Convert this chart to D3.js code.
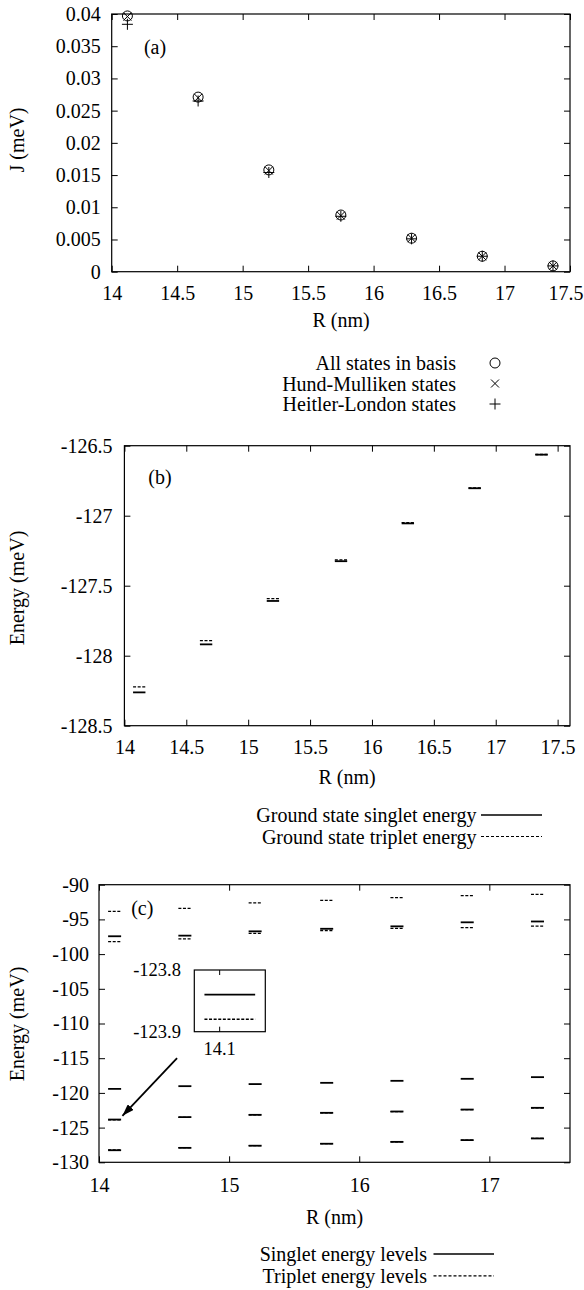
<!DOCTYPE html>
<html><head><meta charset="utf-8">
<script src="https://cdn.jsdelivr.net/npm/d3@7"></script>
<style>
body{margin:0;background:#fff}
svg{display:block}
text{font-family:"Liberation Serif","DejaVu Serif",serif;fill:#000}
</style>
</head><body><svg id="chart" width="584" height="1290"></svg>
<script>
// ---------- data ----------
const R = [14.12, 14.66, 15.20, 15.75, 16.29, 16.83, 17.37];
// panel (a): exchange energy J (meV)
const J_all = [0.0397, 0.0271, 0.0158, 0.0088, 0.0052, 0.0024, 0.0009];
const J_HM  = [0.0396, 0.0270, 0.0157, 0.0087, 0.0052, 0.0024, 0.0009];
const J_HL  = [0.0384, 0.0265, 0.0154, 0.0086, 0.0051, 0.0024, 0.0009];
// panel (b): ground state energies (meV)
const E_S0 = [-128.262, -127.919, -127.609, -127.325, -127.055, -126.804, -126.564];
const E_T0 = [-128.222, -127.892, -127.593, -127.316, -127.050, -126.802, -126.563];
// panel (c): energy levels (meV)
const E_S1 = [-123.84, -123.49, -123.16, -122.87, -122.68, -122.40, -122.15];
const E_T1 = [-123.88, -123.52, -123.18, -122.88, -122.69, -122.40, -122.15];
const E_S2 = [-119.42, -119.03, -118.73, -118.55, -118.26, -117.97, -117.73];
const E_S3 = [-97.43, -97.34, -96.72, -96.35, -96.00, -95.42, -95.30];
const E_T2 = [-98.21, -97.82, -97.00, -96.60, -96.28, -96.19, -95.98];
const E_T3 = [-93.83, -93.40, -92.63, -92.25, -91.85, -91.58, -91.38];
// ticks
const xTicksA = [14, 14.5, 15, 15.5, 16, 16.5, 17, 17.5];
const yTicksA = [0, 0.005, 0.01, 0.015, 0.02, 0.025, 0.03, 0.035, 0.04];
const xTicksB = [14, 14.5, 15, 15.5, 16, 16.5, 17, 17.5];
const yTicksB = [-128.5, -128, -127.5, -127, -126.5];
const xTicksC = [14, 15, 16, 17];
const yTicksC = [-130, -125, -120, -115, -110, -105, -100, -95, -90];
const insetXTicks = [14.1];
const insetYTicks = [-123.9, -123.8];
const legendA = ["All states in basis", "Hund-Mulliken states", "Heitler-London states"];
const legendB = ["Ground state singlet energy", "Ground state triplet energy"];
const legendC = ["Singlet energy levels", "Triplet energy levels"];

// ---------- drawing ----------
const svg = d3.select("#chart");
const FS = 20;
const FSI = 18.5;
const TL = 6;
const fmt = d => String(+d.toFixed(3));

function frame(x, y, xt, yt, padX, padY, tl) {
  tl = tl || TL;
  const [L, Rr] = x.range(); const [B, T] = y.range();
  const g = svg.append("g");
  const ax = (gen, tr) => {
    const a = g.append("g").attr("transform", tr).call(gen);
    a.attr("font-family", null).attr("font-size", null);
    a.select(".domain").remove();
    a.selectAll("line").attr("stroke", "#000").attr("stroke-width", 1);
    a.selectAll("text").attr("font-size", FS).attr("fill", "#000");
    return a;
  };
  const bx = ax(d3.axisBottom(x).tickValues(xt).tickFormat(fmt).tickSize(-tl).tickSizeOuter(0).tickPadding(padX), `translate(0,${B})`);
  // keep the last label inside the page
  bx.selectAll("text").filter(d => x(d) + 17 > 583).attr("text-anchor", "end").attr("x", 583 - x(xt[xt.length-1]));
  ax(d3.axisTop(x).tickValues(xt).tickFormat("").tickSize(-tl).tickSizeOuter(0), `translate(0,${T})`);
  ax(d3.axisLeft(y).tickValues(yt).tickFormat(fmt).tickSize(-tl).tickSizeOuter(0).tickPadding(padY), `translate(${L},0)`);
  ax(d3.axisRight(y).tickValues(yt).tickFormat("").tickSize(-tl).tickSizeOuter(0), `translate(${Rr},0)`);
  g.append("rect").attr("x", L).attr("y", T).attr("width", Rr - L).attr("height", B - T)
    .attr("fill", "none").attr("stroke", "#000").attr("stroke-width", 1.2);
  return g;
}
function label(txt, x, y, anchor, rot, fs) {
  const t = svg.append("text").attr("font-size", fs || FS).attr("text-anchor", anchor || "middle")
    .attr("dy", "0.35em").text(txt);
  if (rot) t.attr("transform", `translate(${x},${y}) rotate(-90)`);
  else t.attr("x", x).attr("y", y);
  return t;
}

// ===== panel (a) =====
const xA = d3.scaleLinear().domain([14, 17.5]).range([111.7, 570]);
const yA = d3.scaleLinear().domain([0, 0.04]).range([271.7, 14]);
frame(xA, yA, xTicksA, yTicksA, 14, 11);
label("(a)", 155, 46.7);
label("J (meV)", 17, 140, "middle", true);
label("R (nm)", 341, 320);

function circ(g, cx, cy) { g.append("circle").attr("cx", cx).attr("cy", cy).attr("r", 5).attr("fill", "none").attr("stroke", "#000").attr("stroke-width", 1); }
function cross(g, cx, cy) { const s = 4; g.append("path").attr("d", `M${cx-s},${cy-s}L${cx+s},${cy+s}M${cx-s},${cy+s}L${cx+s},${cy-s}`).attr("stroke", "#000").attr("stroke-width", 1); }
function plus(g, cx, cy) { const s = 5.5; g.append("path").attr("d", `M${cx-s},${cy}L${cx+s},${cy}M${cx},${cy-s}L${cx},${cy+s}`).attr("stroke", "#000").attr("stroke-width", 1); }
const gA = svg.append("g");
R.forEach((r, i) => {
  circ(gA, xA(r), yA(J_all[i]));
  cross(gA, xA(r), yA(J_HM[i]));
  plus(gA, xA(r), yA(J_HL[i]));
});
const legA = [circ, cross, plus];
legendA.forEach((t, i) => {
  const yy = 363 + i * 20.5;
  label(t, 456, yy, "end");
  legA[i](gA, 495, yy);
});

// ===== panel (b) =====
const xB = d3.scaleLinear().domain([14, 17.6]).range([124.4, 570]);
const yB = d3.scaleLinear().domain([-128.5, -126.5]).range([725.7, 445.7]);
frame(xB, yB, xTicksB, yTicksB, 14, 12);
label("(b)", 160, 476.7);
label("Energy (meV)", 17, 588, "middle", true);
label("R (nm)", 347, 777);
const HW = 0.05;
function level(g, x, y, r, e, dashed, w) {
  g.append("line").attr("x1", x(r - HW)).attr("x2", x(r + HW)).attr("y1", y(e)).attr("y2", y(e))
    .attr("stroke", "#000").attr("stroke-width", w || (dashed ? 1.3 : 1.8))
    .attr("stroke-dasharray", dashed ? "3,1.6" : null);
}
const gB = svg.append("g");
R.forEach((r, i) => {
  level(gB, xB, yB, r, E_S0[i], false);
  level(gB, xB, yB, r, E_T0[i], true);
});
legendB.forEach((t, i) => {
  const yy = 815 + i * 21.5;
  label(t, 476.5, yy, "end");
  gB.append("line").attr("x1", 481).attr("x2", 542).attr("y1", yy).attr("y2", yy)
    .attr("stroke", "#000").attr("stroke-width", i ? 1.2 : 1.5).attr("stroke-dasharray", i ? "3,2" : null);
});

// ===== panel (c) =====
const xC = d3.scaleLinear().domain([14, 17.62]).range([99, 570]);
const yC = d3.scaleLinear().domain([-130, -90]).range([1162.3, 884.7]);
frame(xC, yC, xTicksC, yTicksC, 16, 10);
label("(c)", 142.3, 908.3);
label("Energy (meV)", 17, 1024, "middle", true);
label("R (nm)", 334.5, 1216.7);
const gC = svg.append("g");
const singlets = [E_S0, E_S1, E_S2, E_S3];
const triplets = [E_T0, E_T1, E_T2, E_T3];
R.forEach((r, i) => {
  singlets.forEach(s => level(gC, xC, yC, r, s[i], false));
  triplets.forEach(s => level(gC, xC, yC, r, s[i], true));
});
legendC.forEach((t, i) => {
  const yy = 1254 + i * 21.8;
  label(t, 427, yy, "end");
  gC.append("line").attr("x1", 433.5).attr("x2", 494).attr("y1", yy).attr("y2", yy)
    .attr("stroke", "#000").attr("stroke-width", i ? 1.2 : 1.5).attr("stroke-dasharray", i ? "3,2" : null);
});
// arrow
svg.append("defs").append("marker").attr("id", "ah").attr("viewBox", "0 0 12 8")
  .attr("refX", 12).attr("refY", 4).attr("markerWidth", 12).attr("markerHeight", 8)
  .attr("markerUnits", "userSpaceOnUse").attr("orient", "auto")
  .append("path").attr("d", "M0,0L12,4L0,8Z").attr("fill", "#000");
gC.append("line").attr("x1", xC(14.6)).attr("y1", yC(-115)).attr("x2", xC(14.18)).attr("y2", yC(-123.3))
  .attr("stroke", "#000").attr("stroke-width", 1.8).attr("marker-end", "url(#ah)");

// inset
const xI = d3.scaleLinear().domain([14.05, 14.19]).range([194.3, 265.3]);
const yI = d3.scaleLinear().domain([-123.9, -123.8]).range([1031.7, 970]);
const gI = svg.append("g");
gI.append("rect").attr("x", 194.3).attr("y", 970).attr("width", 71).attr("height", 61.7)
  .attr("fill", "#fff").attr("stroke", "#000").attr("stroke-width", 1.2);
insetXTicks.forEach(v => {
  gI.append("line").attr("x1", xI(v)).attr("x2", xI(v)).attr("y1", 970).attr("y2", 975).attr("stroke", "#000");
  gI.append("line").attr("x1", xI(v)).attr("x2", xI(v)).attr("y1", 1031.7).attr("y2", 1026.7).attr("stroke", "#000");
  label(fmt(v), xI(v), 1048.3, "middle", false, FSI);
});
insetYTicks.forEach(v => label(fmt(v), 181, yI(v), "end", false, FSI));
level(gI, xI, yI, R[0], E_S1[0], false, 1.8);
level(gI, xI, yI, R[0], E_T1[0], true, 1.5);
</script>
</body></html>
